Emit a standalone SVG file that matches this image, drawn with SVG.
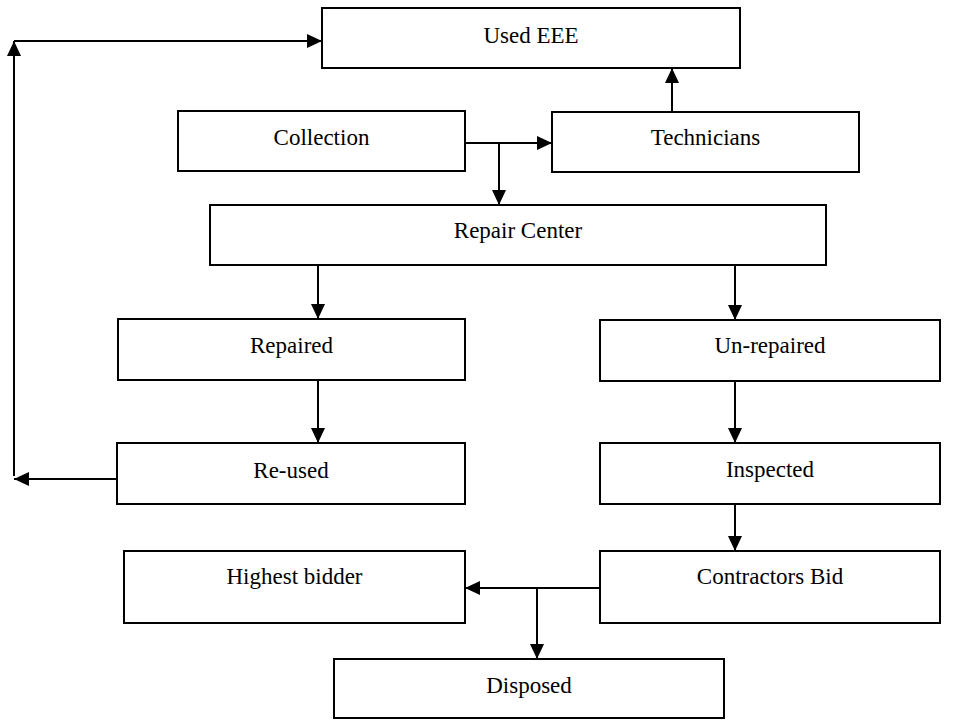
<svg xmlns="http://www.w3.org/2000/svg" width="964" height="720" viewBox="0 0 964 720">
<style>
.box{fill:#fff;stroke:#000;stroke-width:2}
.lbl{font-family:"Liberation Serif","Times New Roman",serif;font-size:23px;fill:#000;text-anchor:middle}
.ln{fill:none;stroke:#000;stroke-width:2}
</style>
<defs>
<marker id="ah" markerUnits="userSpaceOnUse" markerWidth="16" markerHeight="16" viewBox="0 0 16 16" refX="15" refY="8" orient="auto">
<path d="M0,1 L15,8 L0,15 Z" fill="#000"/>
</marker>
</defs>
<rect width="964" height="720" fill="#fff"/>
<g id="connectors">
<path class="ln" d="M117,479 H14" marker-end="url(#ah)"/>
<path class="ln" d="M14,476 V41" marker-end="url(#ah)"/>
<path class="ln" d="M14,41 H322" marker-end="url(#ah)"/>
<path class="ln" d="M465,143 H552" marker-end="url(#ah)"/>
<path class="ln" d="M499,143 V205" marker-end="url(#ah)"/>
<path class="ln" d="M672,112 V68" marker-end="url(#ah)"/>
<path class="ln" d="M318,265 V319" marker-end="url(#ah)"/>
<path class="ln" d="M735,265 V320" marker-end="url(#ah)"/>
<path class="ln" d="M318,380 V443" marker-end="url(#ah)"/>
<path class="ln" d="M735,381 V443" marker-end="url(#ah)"/>
<path class="ln" d="M735,504 V551" marker-end="url(#ah)"/>
<path class="ln" d="M600,588 H465" marker-end="url(#ah)"/>
<path class="ln" d="M537,588 V659" marker-end="url(#ah)"/>
</g>
<g id="used-eee"><rect class="box" x="322" y="8" width="418" height="60"/><text class="lbl" x="531" y="43">Used EEE</text></g>
<g id="collection"><rect class="box" x="178" y="111" width="287" height="60"/><text class="lbl" x="321.5" y="145">Collection</text></g>
<g id="technicians"><rect class="box" x="552" y="112" width="307" height="60"/><text class="lbl" x="705.5" y="145">Technicians</text></g>
<g id="repair-center"><rect class="box" x="210" y="205" width="616" height="60"/><text class="lbl" x="518" y="238">Repair Center</text></g>
<g id="repaired"><rect class="box" x="118" y="319" width="347" height="61"/><text class="lbl" x="291.5" y="353">Repaired</text></g>
<g id="un-repaired"><rect class="box" x="600" y="320" width="340" height="61"/><text class="lbl" x="770" y="353">Un-repaired</text></g>
<g id="re-used"><rect class="box" x="117" y="443" width="348" height="61"/><text class="lbl" x="291" y="478">Re-used</text></g>
<g id="inspected"><rect class="box" x="600" y="443" width="340" height="61"/><text class="lbl" x="770" y="477">Inspected</text></g>
<g id="highest-bidder"><rect class="box" x="124" y="551" width="341" height="72"/><text class="lbl" x="294.5" y="584">Highest bidder</text></g>
<g id="contractors-bid"><rect class="box" x="600" y="551" width="340" height="72"/><text class="lbl" x="770" y="584">Contractors Bid</text></g>
<g id="disposed"><rect class="box" x="334" y="659" width="390" height="59"/><text class="lbl" x="529" y="693">Disposed</text></g>
</svg>
